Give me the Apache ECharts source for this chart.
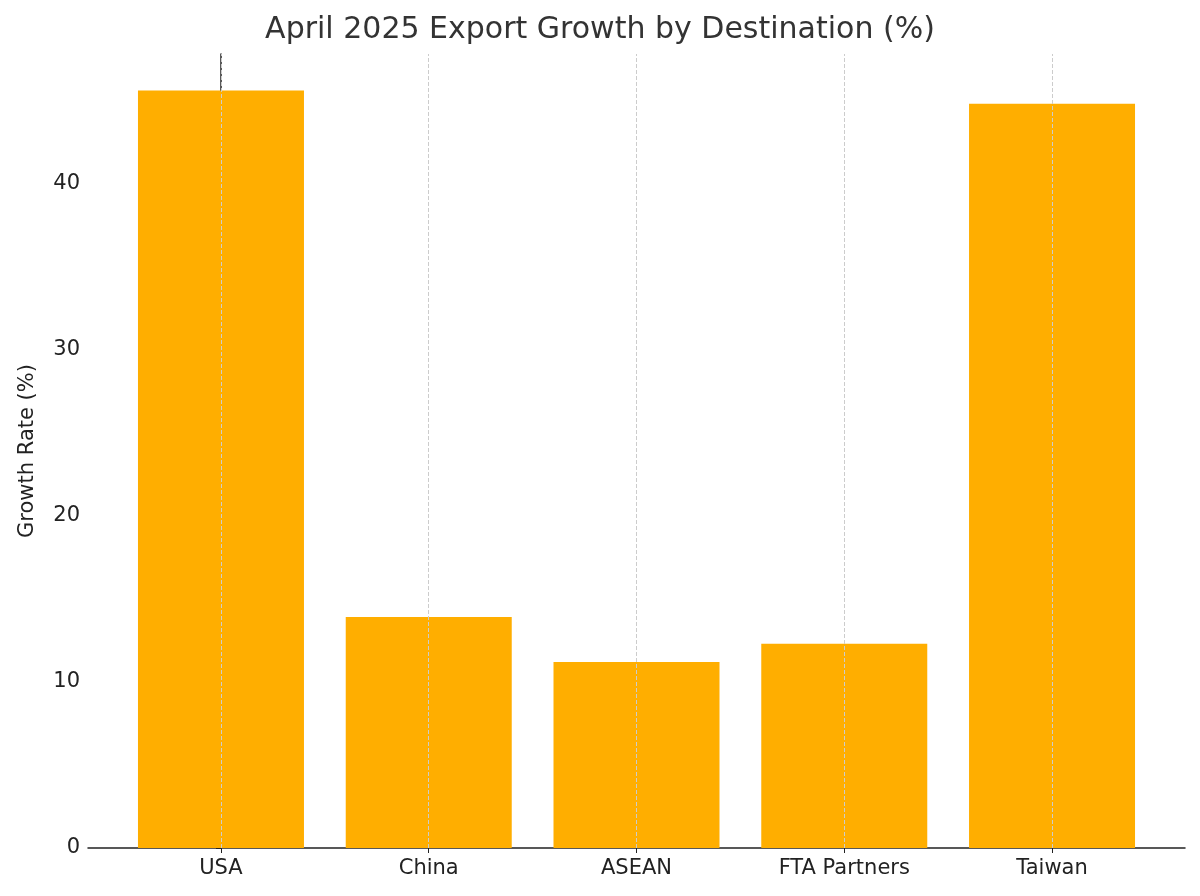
<!DOCTYPE html>
<html>
<head>
<meta charset="utf-8">
<script src="https://cdn.jsdelivr.net/npm/echarts@6/dist/echarts.min.js"></script>
<style>html,body{margin:0;background:#fff}#chart{width:1200px;height:896px}</style>
</head>
<body>
<div id="chart"></div>
<script>
// 数据
const categories = ['USA', 'China', 'ASEAN', 'FTA Partners', 'Taiwan'];
const growthRates = [45.6, 13.9, 11.2, 12.3, 44.8];
const yTicks = [0, 10, 20, 30, 40];

const chart = echarts.init(document.getElementById('chart'));
const positions = categories.map((c, i) => i);

chart.setOption({
	animation: false,
	title: {
		text: 'April 2025 Export Growth by Destination (%)',
		left: 'center',
		top: 10,
		textStyle: { fontFamily: 'DejaVu Sans', fontSize: 30, fontWeight: 'normal', color: '#333' }
	},
	grid: { left: 88, right: 15, top: 54, bottom: 48 },
	xAxis: {
		type: 'value',
		min: -0.64,
		max: 4.64,
		splitLine: { show: false },
		axisLine: { lineStyle: { color: '#222', width: 1.5 } },
		axisTick: { show: true, customValues: positions, lineStyle: { color: '#222' } },
		axisLabel: {
			customValues: positions,
			formatter: v => categories[Math.round(v)],
			fontFamily: 'DejaVu Sans', fontSize: 21, color: '#222', margin: 10
		}
	},
	yAxis: {
		type: 'value',
		min: 0,
		max: 47.8,
		name: 'Growth Rate (%)',
		nameLocation: 'middle',
		nameGap: 50,
		nameTextStyle: { fontFamily: 'DejaVu Sans', fontSize: 21, color: '#222' },
		splitLine: { show: false },
		axisLine: { show: true, lineStyle: { color: '#222', width: 1.5 } },
		axisTick: { show: true, customValues: yTicks, lineStyle: { color: '#222' } },
		axisLabel: { customValues: yTicks, fontFamily: 'DejaVu Sans', fontSize: 21, color: '#222' }
	},
	series: [{
		type: 'bar',
		barWidth: 166,
		itemStyle: { color: '#FFAE00' },
		data: growthRates.map((v, i) => [i, v]),
		markLine: {
			silent: true,
			symbol: 'none',
			label: { show: false },
			lineStyle: { color: '#ccc', type: 'dashed', width: 1 },
			data: positions.map(p => ({ xAxis: p }))
		}
	}]
});
</script>
</body>
</html>
